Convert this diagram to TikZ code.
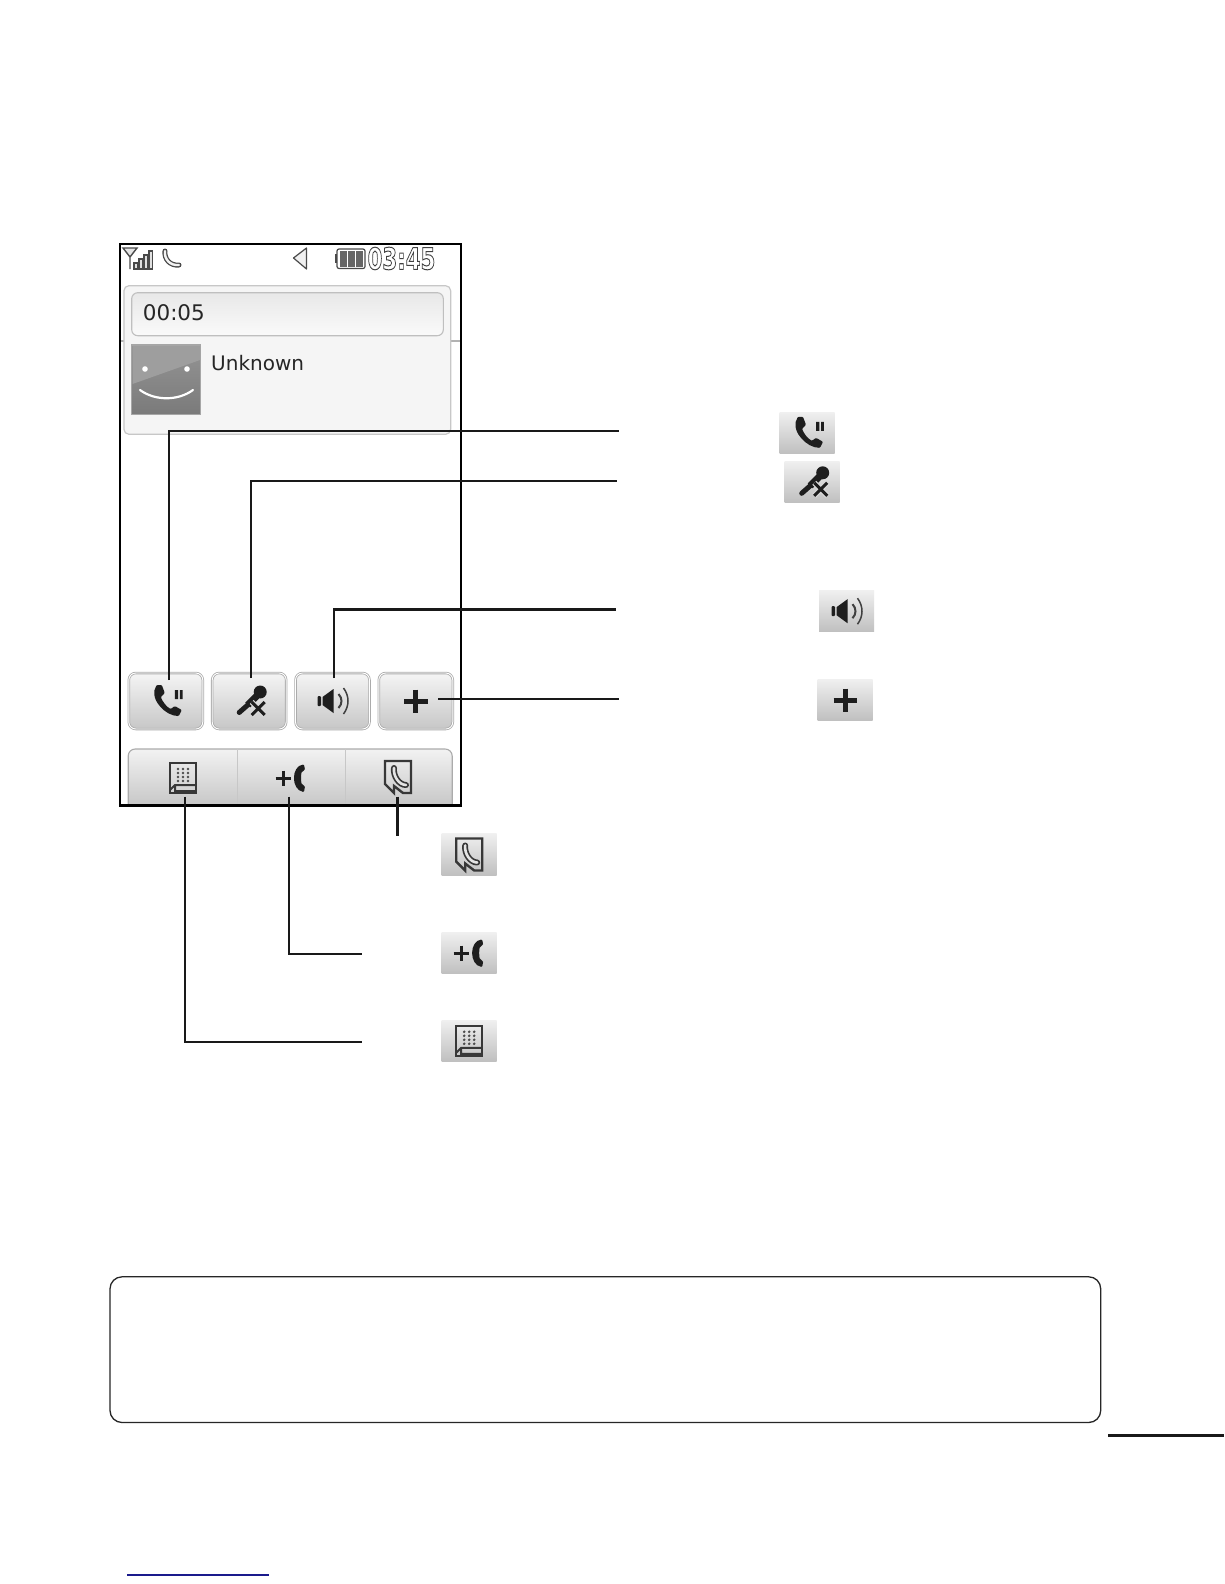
\documentclass[tikz,border=0pt]{standalone}
\usepackage{fontspec}
\setmainfont{DejaVu Sans}
\usetikzlibrary{positioning}
\definecolor{icondark}{HTML}{1E1E1E}
\definecolor{statusgray}{HTML}{4A4A4A}
\definecolor{edgegray}{HTML}{ABABAB}
\definecolor{linkblue}{HTML}{1A1A8C}
\newcommand{\lcdtext}[1]{\special{pdf:code 1 Tr 1 w}#1\special{pdf:code 0 Tr}}
\tikzset{
  wirethick/.style={line width=2.8pt,black!90},
  wirethin/.style={line width=2.1pt,black!90},
  btnbox/.style={draw=edgegray,double=white,double distance=.9pt,line width=.8pt,rounded corners=7pt,top color=black!4,bottom color=black!22,
    minimum width=74pt,minimum height=56pt,inner sep=0pt,outer sep=0pt},
  tilebox/.style={top color=black!6,bottom color=black!25,minimum width=55pt,minimum height=41.5pt,inner sep=0pt,outer sep=0pt},
  pics/holdicon/.style={code={
    \fill[icondark,rounded corners=1pt] (-9,-16) .. controls (-13,-10) and (-12,-2) .. (-6,5)
      .. controls (-1,11) and (6,15) .. (13,15) -- (16,9) -- (9,5) -- (5,8)
      .. controls (1,6) and (-3,1) .. (-5,-4) -- (-1,-8) -- (-4,-16) -- cycle;
    \fill[icondark] (9,-11) rectangle (12.3,-2) (14,-11) rectangle (16.8,-2);
  }},
  pics/muteicon/.style={code={
    \fill[icondark] (8.5,-9) circle (6.5);
    \draw[icondark,line width=7pt] (5,-5)--(-4,4);
    \draw[icondark,line width=5pt,line cap=round] (-4,4)--(-12.5,11.5);
    \draw[black!15,line width=5.5pt] (0,1)--(13,14) (13,1)--(0,14);
    \draw[icondark,line width=3pt] (0,1)--(13,14) (13,1)--(0,14);
  }},
  pics/speakericon/.style={code={
    \fill[icondark,rounded corners=1pt] (-15,-5) rectangle (-11.5,5);
    \fill[icondark] (-10,-4)--(1,-12)--(1,12)--(-10,4)--cycle;
    \draw[black!75,line width=2pt] (6,-7) .. controls (10,-3) and (10,3) .. (6,7);
    \draw[black!75,line width=1.5pt] (11,-13) .. controls (17,-5) and (17,5) .. (11,13);
  }},
  pics/plusicon/.style={code={
    \draw[icondark,line width=5pt] (-11.7,0)--(11.7,0) (0,-11.5)--(0,11.5);
  }},
  pics/keypadicon/.style={code={
    \draw[black!78,line width=2.4pt] (-13,-15) rectangle (13,15);
    \draw[black!78,line width=2pt] (-13,12)--(-8,7)--(13,7) (-8,7)--(-8,13)--(13,13);
    \foreach \dotx in {-5,0,5}
      \foreach \doty in {-9,-5,-1,3}
        \fill[black!70] (\dotx,\doty) circle (1.4);
  }},
  pics/addcallicon/.style={code={
    \draw[icondark,line width=3pt] (-15.5,0)--(-0.5,0) (-8,-7.5)--(-8,7.5);
    \fill[icondark,rounded corners=1pt] (13,-13.5) .. controls (6,-13) and (3,-6) .. (3,0)
      .. controls (3,6) and (6,13) .. (13,14) -- (14,8) .. controls (10,7) and (10,4) .. (10,0)
      .. controls (10,-4) and (10,-7) .. (14,-8) -- cycle;
  }},
  pics/contacticon/.style={code={
    \draw[black!78,line width=2.4pt] (5,16)--(13,16)--(13,-16)--(-13,-16)--(-13,7)--(-4,16)--(-4,9)--cycle;
    \draw[black!78,line width=6pt,line cap=round] (-4,-9) .. controls (-5,-1) and (1,8) .. (8,8);
    \draw[black!10,line width=2.6pt,line cap=round] (-4,-9) .. controls (-5,-1) and (1,8) .. (8,8);
  }},
}
\begin{document}
\begin{tikzpicture}[x=1pt,y=-1pt]
\useasboundingbox (0,0) rectangle (1224,1584);
\fill[white] (0,0) rectangle (1224,1584);

\draw[black!30,line width=1.5pt] (121,341)--(460,341);
\node[draw=black!22,line width=1.2pt,rounded corners=5pt,fill=black!4,minimum width=326.7pt,minimum height=148.6pt,inner sep=0pt,outer sep=0pt] (callpanel) at (287.3,360) {};
\node[draw=black!25,line width=1.1pt,rounded corners=6pt,top color=black!9,bottom color=black!2,minimum width=311.6pt,minimum height=43pt,inner sep=0pt,outer sep=0pt] (timerbar) at (287.5,314.2) {};
\node[anchor=west,font=\fontsize{21.5}{24}\selectfont,black!85,inner sep=0pt] (timertext) at (142.7,312.5) {00:05};
\node[draw=black!35,line width=1.5pt,top color=black!42,bottom color=black!52,minimum width=69pt,minimum height=69.3pt,inner sep=0pt,outer sep=0pt] (avatar) at (166.2,379.7) {};
\fill[black!38] (132.5,346) -- (200,346) -- (200,360) -- (132.5,384) -- cycle;
\fill[white] (145,369) circle (2.8) (187,369) circle (2.8);
\draw[white,line width=2.2pt,line cap=round] (140,390) .. controls (155,401) and (178,401) .. (193,390);
\node[anchor=west,font=\fontsize{20}{24}\selectfont,black!85,inner sep=0pt] (nametext) at (211,363.5) {Unknown};

\draw[statusgray,line width=1.4pt,fill=black!10] (123,248)--(137,248)--(130,257)--cycle (130,257)--(130,269);
\foreach \barx/\bartop in {134/263,139/259,144/255,149/251}
  \draw[statusgray,line width=1.1pt,fill=black!12] (\barx,\bartop) rectangle (\barx+3.6,269);
\draw[statusgray,line width=5pt,line cap=round] (165,251) .. controls (164,259) and (170,266) .. (179,265);
\draw[black!5,line width=2.4pt,line cap=round] (165,251) .. controls (164,259) and (170,266) .. (179,265);
\draw[statusgray,line width=1.2pt,fill=black!6,line join=round] (293.5,258)--(306.5,248)--(306.5,269)--cycle;
\draw[statusgray,line width=1.2pt,rounded corners=2pt] (337,249) rectangle (365,268.5);
\fill[statusgray] (334.5,254) rectangle (337,263);
\foreach \cellx in {339.5,347.5,355.5}
  \fill[black!60] (\cellx,251) rectangle (\cellx+7,266.5);
\node[font=\bfseries\fontsize{30}{32}\selectfont,black!75,inner sep=0pt] (clocktext) at (401.5,258.5) {\scalebox{.71}[1]{\lcdtext{03:45}}};

\node[btnbox] (holdbtn) at (165.8,701) {};
\node[btnbox] (mutebtn) at (249.2,701) {};
\node[btnbox] (speakerbtn) at (332.5,701) {};
\node[btnbox] (plusbtn) at (415.8,701) {};
\pic at (holdbtn) {holdicon};
\pic at (251.7,701) {muteicon};
\pic at (speakerbtn) {speakericon};
\pic at (plusbtn) {plusicon};

\begin{scope}
\clip (120,700) rectangle (461,805.5);
\node[draw=edgegray,line width=1.1pt,rounded corners=7pt,top color=black!5,bottom color=black!26,minimum width=324pt,minimum height=70pt,inner sep=0pt,outer sep=0pt] (tabbar) at (290.2,784) {};
\draw[black!22,line width=1pt] (237,749)--(237,806) (345.7,749)--(345.7,806);
\end{scope}
\pic at (183,778) {keypadicon};
\pic at (291,778) {addcallicon};
\pic at (398,777) {contacticon};

\draw[black,line width=2.5pt] (120,244) rectangle (461,805.5);

\node[tilebox] (holdtile) at (807,432.8) {};
\node[tilebox] (mutetile) at (812.2,481.8) {};
\node[tilebox] (speakertile) at (846.5,611.2) {};
\node[tilebox] (plustile) at (845.2,700) {};
\node[tilebox] (contacttile) at (469.2,854.5) {};
\node[tilebox] (addcalltile) at (469.2,953) {};
\node[tilebox] (keypadtile) at (469.2,1040.8) {};
\pic at (holdtile) {holdicon};
\pic at ([xshift=2pt]mutetile.center) {muteicon};
\pic at (speakertile) {speakericon};
\pic at (plustile) {plusicon};
\pic at (contacttile) {contacticon};
\pic at (addcalltile) {addcallicon};
\pic at (keypadtile) {keypadicon};

\coordinate (holdtip) at (169,680);
\coordinate (mutetip) at (250.7,678);
\coordinate (speakertip) at (334,678);
\coordinate (plustip) at (438,699);
\coordinate (contacttip) at (397.3,796.5);
\coordinate (addcalltip) at (289,796.5);
\coordinate (keypadtip) at (185,796.5);
\coordinate (holdend) at (619,431);
\coordinate (muteend) at (617,481.3);
\coordinate (speakerend) at (616,609.3);
\coordinate (plusend) at (619,699);
\coordinate (contactend) at (397.3,836);
\coordinate (addcallend) at (362,954);
\coordinate (keypadend) at (362,1041.7);
\draw[wirethick] (holdtip) |- (holdend);
\draw[wirethin] (mutetip) |- (muteend);
\draw[wirethick] (speakertip) |- (speakerend);
\draw[wirethin] (plustip) -- (plusend);
\draw[wirethick] (contacttip) -- (contactend);
\draw[wirethin] (addcalltip) |- (addcallend);
\draw[wirethin] (keypadtip) |- (keypadend);

\draw[black!85,line width=1.3pt,rounded corners=12pt] (110,1276.8) rectangle (1100.7,1422.5);
\draw[black!90,line width=2.6pt] (1108,1435.7)--(1224,1435.7);
\draw[linkblue,line width=1.2pt] (127,1575)--(269.3,1575);
\end{tikzpicture}
\end{document}
